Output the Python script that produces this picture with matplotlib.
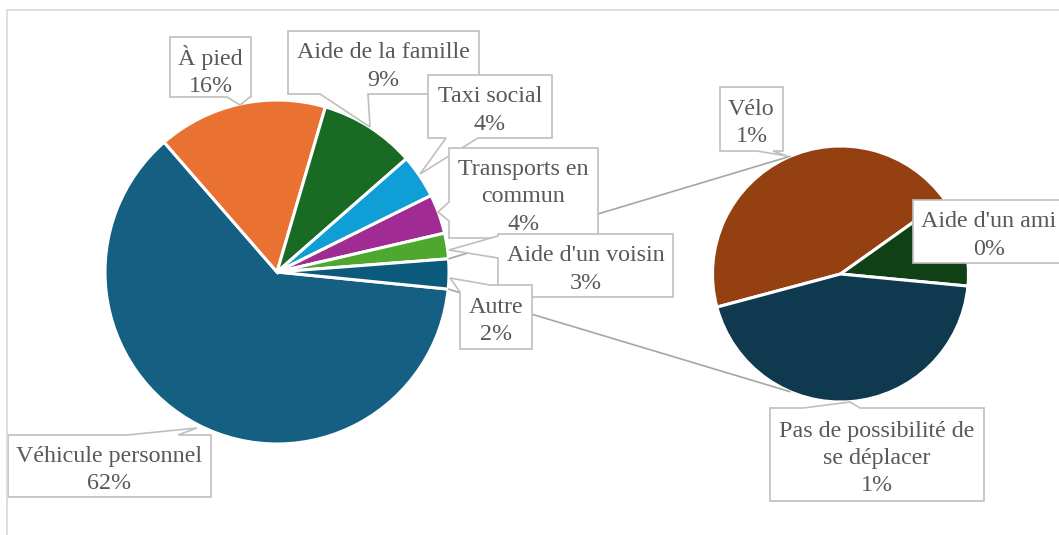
"""Pie-of-pie chart: modes de déplacement."""
import textwrap
import matplotlib
matplotlib.use('Agg')
import matplotlib.pyplot as plt
from matplotlib.patches import Polygon, Rectangle
import numpy as np

# main pie (share of all answers, %)
main_labels = ['Véhicule personnel', 'À pied', 'Aide de la famille', 'Taxi social',
               'Transports en commun', "Aide d'un voisin", 'Autre']
main_values = [61.9, 15.9, 9.0, 4.1, 3.7, 2.4, 2.8]
main_pct = ['62%', '16%', '9%', '4%', '4%', '3%', '2%']
main_colors = ['#156082', '#E97132', '#196B24', '#0F9ED5', '#A02B93', '#4EA72E', '#0B5A7B']

# secondary pie, split of "Autre"
sec_labels = ['Vélo', "Aide d'un ami", 'Pas de possibilité de se déplacer']
sec_values = [1.25, 0.32, 1.25]
sec_pct = ['1%', '0%', '1%']
sec_colors = ['#954010', '#0F4016', '#0E394E']

W, H = 1059, 535
TXT = '#595959'
EDGE = '#BFBFBF'
FONT = 'Liberation Serif'


def Y(y):
    # image pixel row -> data y
    return H - y


# label layout in image pixels: box, pointer base (clockwise order), tip, wrap width
layout = {
    'Véhicule personnel': dict(box=(8, 435, 211, 497), base=[(127, 435), (178, 435)], tip=(197, 428), wrap=30),
    'À pied': dict(box=(170, 37, 251, 97), base=[(250, 97), (227, 97)], tip=(240, 105), wrap=30),
    'Aide de la famille': dict(box=(288, 31, 479, 94), base=[(368, 94), (320, 94)], tip=(370, 127), wrap=30),
    'Taxi social': dict(box=(428, 75, 552, 138), base=[(478, 138), (446, 138)], tip=(420, 174), wrap=30),
    'Transports en commun': dict(box=(449, 148, 598, 238), base=[(449, 221), (449, 202)], tip=(438, 212), wrap=14),
    "Aide d'un voisin": dict(box=(498, 234, 673, 297), base=[(498, 258), (498, 236)], tip=(449, 250), wrap=30),
    'Autre': dict(box=(460, 285, 532, 349), base=[(460, 292), (490, 285)], tip=(450, 278), wrap=30),
    'Vélo': dict(box=(720, 87, 783, 151), base=[(773, 151), (757, 151)], tip=(787, 156), wrap=30),
    "Aide d'un ami": dict(box=(913, 200, 1065, 263), base=None, tip=None, wrap=30),
    'Pas de possibilité de se déplacer': dict(box=(770, 408, 984, 501), base=[(803, 408), (860, 408)],
                                              tip=(850, 402), wrap=21),
}


def perim(pt, box):
    # position along the box outline, clockwise from top-left (image coords)
    x0, y0, x1, y1 = box
    w, h = x1 - x0, y1 - y0
    x, y = pt
    d = {'top': abs(y - y0), 'right': abs(x - x1), 'bottom': abs(y - y1), 'left': abs(x - x0)}
    side = min(d, key=d.get)
    if side == 'top':
        return x - x0
    if side == 'right':
        return w + (y - y0)
    if side == 'bottom':
        return w + h + (x1 - x)
    return 2 * w + h + (y1 - y)


def callout(ax, text, cfg):
    x0, y0, x1, y1 = cfg['box']
    corners = [(x0, y0), (x1, y0), (x1, y1), (x0, y1)]
    if cfg['base'] is None:
        verts = corners
    else:
        w, h = x1 - x0, y1 - y0
        P = 2 * (w + h)
        b0, b1 = cfg['base']
        s0, s1 = perim(b0, cfg['box']), perim(b1, cfg['box'])
        span = (s0 - s1) % P
        cs = [(c, (perim(c, cfg['box']) - s1) % P) for c in corners]
        cs = sorted([c for c in cs if 0 < c[1] < span], key=lambda c: c[1])
        verts = [b1] + [c[0] for c in cs] + [b0, cfg['tip']]
    verts = [(vx, Y(vy)) for vx, vy in verts]
    ax.add_patch(Polygon(verts, closed=True, facecolor='white', edgecolor=EDGE,
                         linewidth=1.2, zorder=3))
    # text sits a few pixels below the box centre, as in Excel
    ax.text((x0 + x1) / 2, Y((y0 + y1) / 2 + 4), text, ha='center', va='center',
            multialignment='center', fontsize=17.3, family=FONT, color=TXT,
            linespacing=1.38, zorder=4)


fig = plt.figure(figsize=(W / 100, H / 100), dpi=100)
ax = fig.add_axes([0, 0, 1, 1])

main_c, main_r = (277, Y(272)), 172
sec_c, sec_r = (840.5, Y(274)), 128

wedges, _ = ax.pie(main_values, colors=main_colors, startangle=-5.7, counterclock=False,
                   center=main_c, radius=main_r,
                   wedgeprops=dict(edgecolor='white', linewidth=2.2))
ax.pie(sec_values, colors=sec_colors, startangle=195, counterclock=False,
       center=sec_c, radius=sec_r, wedgeprops=dict(edgecolor='white', linewidth=2.2))

# series lines from the "Autre" slice to the secondary pie
other = wedges[-1]
for th_main, th_sec in [(other.theta2, 113), (other.theta1, -113)]:
    a, b = np.radians(th_main), np.radians(th_sec)
    ax.plot([main_c[0] + main_r * np.cos(a), sec_c[0] + sec_r * np.cos(b)],
            [main_c[1] + main_r * np.sin(a), sec_c[1] + sec_r * np.sin(b)],
            color='#A6A6A6', linewidth=1.2, zorder=2, solid_capstyle='butt')

for name, pct in zip(main_labels + sec_labels, main_pct + sec_pct):
    cfg = layout[name]
    callout(ax, textwrap.fill(name, cfg['wrap']) + '\n' + pct, cfg)

# chart area border
ax.add_patch(Rectangle((7, Y(545)), 1070, 535, facecolor='none', edgecolor='#D9D9D9',
                       linewidth=1.2, zorder=5))

ax.set_xlim(0, W)
ax.set_ylim(0, H)
ax.set_aspect('equal')
ax.axis('off')

fig.savefig('out.png', dpi=100)
